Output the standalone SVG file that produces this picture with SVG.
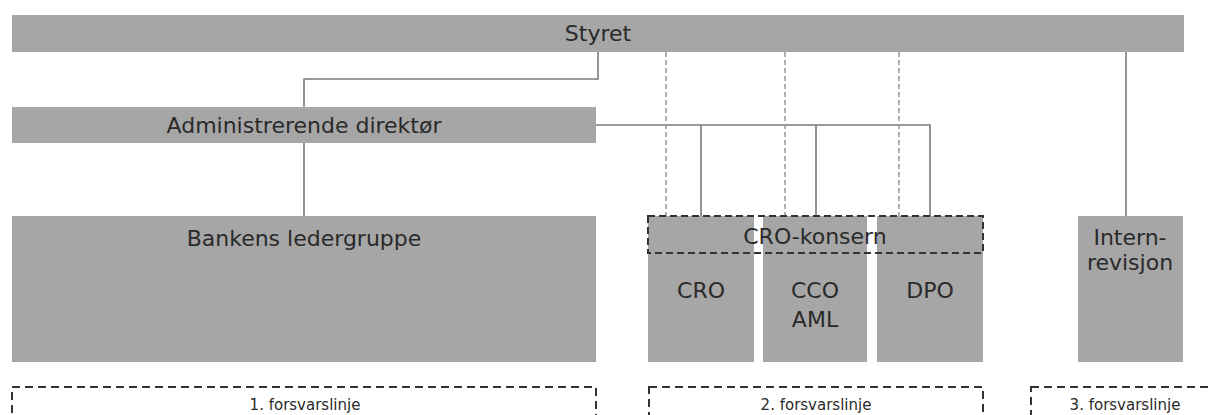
<svg xmlns="http://www.w3.org/2000/svg" width="1209" height="415" viewBox="0 0 1209 415">
<style>
.box{fill:#a6a6a6}
.t{font-family:"DejaVu Sans",Verdana,sans-serif;font-size:22px;fill:#2a2a2a;text-anchor:middle}
.s{font-family:"DejaVu Sans",Verdana,sans-serif;font-size:15px;fill:#2a2a2a;text-anchor:middle}
.c{fill:none;stroke:#7a7a7a;stroke-width:1.6}
.d{fill:none;stroke:#9a9a9a;stroke-width:1.6;stroke-dasharray:5 3}
.grp{fill:none;stroke:#333;stroke-width:2;stroke-dasharray:7 4}
.line{fill:none;stroke:#333;stroke-width:2;stroke-dasharray:8 5}
</style>
<rect width="1209" height="415" fill="#fff"/>
<g id="connectors">
<path class="c" d="M598 52V79H304V107"/>
<path class="c" d="M304 143V216"/>
<path class="c" d="M596 125H930V216M701 125V216M816 125V216"/>
<path class="d" d="M666 52V216M785 52V216M899 52V216"/>
<path class="c" d="M1126 52V216"/>
</g>
<g id="styret"><rect class="box" x="12" y="15" width="1172" height="37"/><text class="t" x="598" y="41">Styret</text></g>
<g id="adm"><rect class="box" x="12" y="107" width="584" height="36"/><text class="t" x="304" y="133">Administrerende direktør</text></g>
<g id="ledergruppe"><rect class="box" x="12" y="216" width="584" height="146"/><text class="t" x="304" y="246">Bankens ledergruppe</text></g>
<g id="cro"><rect class="box" x="648" y="216" width="106" height="146"/><text class="t" x="701" y="298">CRO</text></g>
<g id="cco"><rect class="box" x="763" y="216" width="104" height="146"/><text class="t" x="815" y="298">CCO</text><text class="t" x="815" y="327">AML</text></g>
<g id="dpo"><rect class="box" x="877" y="216" width="106" height="146"/><text class="t" x="930" y="298">DPO</text></g>
<g id="cro-konsern"><rect class="grp" x="648" y="216" width="335" height="37"/><text class="t" x="815" y="244">CRO-konsern</text></g>
<g id="internrevisjon"><rect class="box" x="1078" y="216" width="105" height="146"/><text class="t" x="1130" y="245">Intern-</text><text class="t" x="1130" y="270">revisjon</text></g>
<g id="linje1"><rect class="line" x="12" y="387" width="584" height="40"/><text class="s" x="305" y="410">1. forsvarslinje</text></g>
<g id="linje2"><rect class="line" x="649" y="387" width="334" height="40"/><text class="s" x="816" y="410">2. forsvarslinje</text></g>
<g id="linje3"><rect class="line" x="1031" y="387" width="190" height="40"/><text class="s" x="1125" y="410">3. forsvarslinje</text></g>
</svg>
